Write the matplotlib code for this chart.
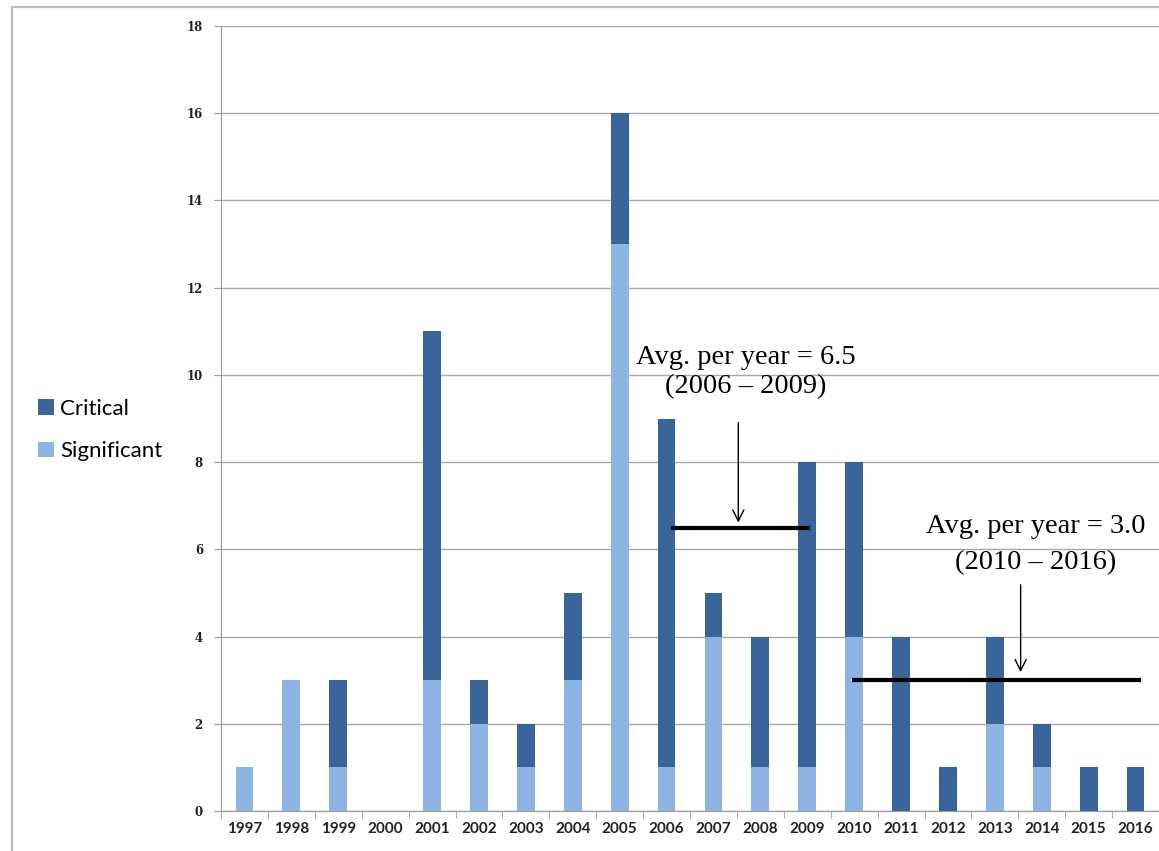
import matplotlib.pyplot as plt
from matplotlib.patches import Rectangle

years = [str(y) for y in range(1997, 2017)]
significant = [1, 3, 1, 0, 3, 2, 1, 3, 13, 1, 4, 1, 1, 4, 0, 0, 2, 1, 0, 0]
critical = [0, 0, 2, 0, 8, 1, 1, 2, 3, 8, 1, 3, 7, 4, 4, 1, 2, 1, 1, 1]

avg_periods = [("2006", "2009", 6.5), ("2010", "2016", 3.0)]

dark = "#3A659B"
light = "#8DB4E2"


def main():
    fig = plt.figure(figsize=(11.59, 8.51), dpi=100)
    ax = fig.add_axes([221 / 1159, 1 - 811 / 851, 1 - 221 / 1159, (811 - 26) / 851])

    # grey frame round the whole chart
    fig.patches.append(Rectangle((12 / 1159, -0.1), 1.2, 1.1 - 7 / 851,
                                 transform=fig.transFigure, fill=False,
                                 ec="#BDBDBD", lw=1.6))

    x = list(range(len(years)))
    ax.bar(x, significant, width=0.38, color=light, label="Significant", zorder=3)
    ax.bar(x, critical, width=0.38, bottom=significant, color=dark, label="Critical", zorder=3)

    ax.set_xlim(-0.5, len(years) - 0.5)
    ax.set_ylim(0, 18)
    ax.set_yticks(range(0, 19, 2))
    ax.yaxis.grid(True, color="#A8A8A8", lw=1.0, zorder=0)

    ax.set_xticks(x)
    ax.set_xticklabels(years, fontfamily="Lato", fontweight="bold", fontsize=11, color="#222222")
    ax.set_xticks([i - 0.5 for i in range(len(years) + 1)], minor=True)
    ax.tick_params(axis="x", which="major", length=0, pad=8)
    ax.tick_params(axis="x", which="minor", length=5, color="#9A9A9A", direction="out")
    ax.tick_params(axis="y", length=5, color="#9A9A9A", pad=8)
    for lab in ax.get_yticklabels():
        lab.set_fontfamily("DejaVu Serif")
        lab.set_fontweight("bold")
        lab.set_fontsize(8.5)
        lab.set_color("#222222")

    for side in ["top", "right"]:
        ax.spines[side].set_visible(False)
    ax.spines["left"].set_color("#9A9A9A")
    ax.spines["bottom"].set_color("#9A9A9A")

    # average lines
    ends = {"2006": 0.1, "2010": -0.05}
    for start, end, val in avg_periods:
        i0 = years.index(start)
        i1 = years.index(end)
        ax.plot([i0 + ends[start], i1 + 0.05 if end == "2009" else i1 + 0.12], [val, val],
                color="black", lw=3, zorder=4, solid_capstyle="butt")

    serif = dict(fontfamily="Liberation Serif", fontsize=20.5, ha="center", va="center", zorder=5)
    ax.text(10.68, 10.41, "Avg. per year = 6.5", **serif)
    ax.text(10.68, 9.72, "(2006 \u2013 2009)", **serif)
    ax.annotate("", xy=(10.53, 6.55), xytext=(10.53, 8.97),
                arrowprops=dict(arrowstyle="->", color="black", lw=1, mutation_scale=20))

    ax.text(16.87, 6.53, "Avg. per year = 3.0", **serif)
    ax.text(16.87, 5.69, "(2010 \u2013 2016)", **serif)
    ax.annotate("", xy=(16.55, 3.12), xytext=(16.55, 5.25),
                arrowprops=dict(arrowstyle="->", color="black", lw=1, mutation_scale=20))

    handles, labels = ax.get_legend_handles_labels()
    fig.legend(handles[::-1], labels[::-1], loc="center left",
               bbox_to_anchor=(18 / 1159, 1 - 430 / 851), frameon=False,
               prop={"family": "Lato", "size": 16}, handlelength=0.7, handleheight=0.7,
               handletextpad=0.3, labelspacing=1.0)

    fig.savefig("out.png", dpi=100)


if __name__ == '__main__':
    main()
